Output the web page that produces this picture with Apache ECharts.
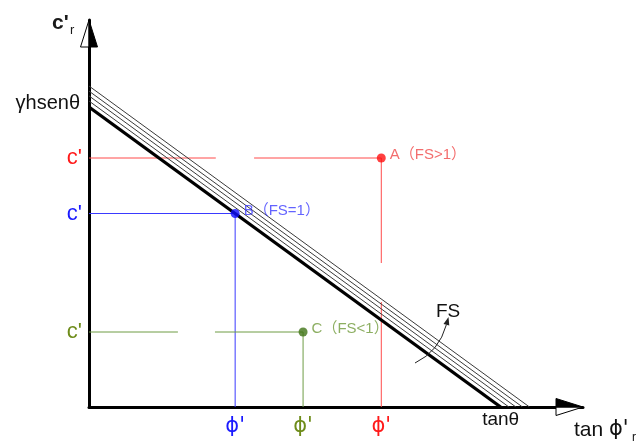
<!DOCTYPE html>
<html>
<head>
<meta charset="utf-8">
<script src="https://cdn.jsdelivr.net/npm/echarts@6/dist/echarts.min.js"></script>
<style>
  html, body { margin: 0; padding: 0; background: #fff; }
  #chart { width: 644px; height: 444px; }
</style>
</head>
<body>
<div id="chart"></div>
<script>
// Slope stability chart: cohesion c'r against tan φ'r.
// The thick line is the FS = 1 limit (intercepts tanθ and γh senθ = 1),
// thinner parallel lines show increasing FS.
const bandIntercepts = [1.0, 1.02, 1.037, 1.053, 1.07];

// Example states A, B, C (x = tan φ', y = c')
const pointNames  = ['A', 'B', 'C'];
const pointLabels = ['A（FS>1）', 'B（FS=1）', 'C（FS<1）'];
const pointX = [0.71, 0.355, 0.52];
const pointY = [0.83, 0.645, 0.25];

// Breaks in the guide lines (axis units)
const guideGapsH = { A: [0.308, 0.401], C: [0.216, 0.306] };
const guideGapsV = { A: [0.35, 0.48] };

// Axis tick labels
const limitLabelY = 'γhsenθ';
const limitLabelX = 'tanθ';
const pointTickLabelY = "c'";
const pointTickLabelX = "ϕ'";

const X_MAX = 1.2;
const Y_MAX = 1.29;

const colors = {
  A: { line: '#ff4a4a', dot: '#ff1010', text: '#f04848', tick: '#ff1a1a' },
  B: { line: '#3a3aff', dot: '#1010ff', text: '#3c3cff', tick: '#1a1aff' },
  C: { line: '#6f9c45', dot: '#3f7315', text: '#6f9a3a', tick: '#6e8c1a' }
};
const FONT = "'Liberation Sans', 'DejaVu Sans', 'Noto Sans CJK SC', sans-serif";
const PHI_FONT = "'DejaVu Sans', 'Liberation Sans', sans-serif";

// Guide lines from each point down to the axes
const guideLines = [];
pointNames.forEach((n, i) => {
  const x = pointX[i], y = pointY[i];
  const c = colors[n].line;
  const gh = guideGapsH[n], gv = guideGapsV[n];
  const horiz = gh ? [[[0, y], [gh[0], y]], [[gh[1], y], [x, y]]] : [[[0, y], [x, y]]];
  const vert = gv ? [[[x, y], [x, gv[1]]], [[x, gv[0]], [x, 0]]] : [[[x, y], [x, 0]]];
  horiz.concat(vert).forEach(seg => guideLines.push({ coords: seg, lineStyle: { color: c } }));
});

// FS band lines
const bandLines = bandIntercepts.map((b, i) => ({
  coords: [[0, b], [b, 0]],
  lineStyle: i === 0 ? { color: '#000', width: 3.2 } : { color: '#3a3a3a', width: 1 }
}));

// Tick values/labels built from the points and the limit line
const yTicks = pointNames.map((n, i) => ({ v: pointY[i], s: n, t: pointTickLabelY }))
  .concat([{ v: bandIntercepts[0], s: 'K', t: limitLabelY }]);
const xTicks = pointNames.map((n, i) => ({ v: pointX[i], s: n, t: pointTickLabelX }))
  .concat([{ v: bandIntercepts[0], s: 'K', t: limitLabelX }]);

function tickRich(size, family) {
  return {
    A: { color: colors.A.tick, fontSize: size, fontFamily: family },
    B: { color: colors.B.tick, fontSize: size, fontFamily: family },
    C: { color: colors.C.tick, fontSize: size, fontFamily: family }
  };
}

const chart = echarts.init(document.getElementById('chart'), null, { renderer: 'canvas' });

chart.setOption({
  animation: false,
  backgroundColor: '#fff',
  grid: { left: 89, top: 20, width: 494, height: 387 },
  xAxis: {
    type: 'value', min: 0, max: X_MAX,
    splitLine: { show: false },
    axisTick: { show: false },
    axisLine: { show: true, onZero: false, lineStyle: { color: '#000', width: 3 } },
    axisLabel: {
      customValues: xTicks.map(t => t.v),
      margin: 9,
      formatter: (v) => {
        const t = xTicks.find(k => k.v === v);
        if (!t) return '';
        return '{' + t.s + '|' + t.t + '}';
      },
      rich: Object.assign(tickRich(21, PHI_FONT), {
        K: { color: '#111', fontSize: 19, fontFamily: FONT, padding: [-6, 0, 0, 0] }
      })
    }
  },
  yAxis: {
    type: 'value', min: 0, max: Y_MAX,
    splitLine: { show: false },
    axisTick: { show: false },
    axisLine: { show: true, onZero: false, lineStyle: { color: '#000', width: 3 } },
    axisLabel: {
      customValues: yTicks.map(t => t.v),
      margin: 7,
      formatter: (v) => {
        const t = yTicks.find(k => k.v === v);
        if (!t) return '';
        return '{' + t.s + '|' + t.t + '}';
      },
      rich: Object.assign(tickRich(22, FONT), {
        K: { color: '#111', fontSize: 20, fontFamily: FONT, padding: [0, 2, 8, 0] }
      })
    }
  },
  series: [
    {
      name: 'guides', type: 'lines', coordinateSystem: 'cartesian2d', polyline: true,
      silent: true, z: 2, lineStyle: { width: 1, opacity: 1 },
      data: guideLines
    },
    {
      name: 'FS band', type: 'lines', coordinateSystem: 'cartesian2d',
      silent: true, z: 3, lineStyle: { opacity: 1 },
      data: bandLines
    },
    {
      name: 'points', type: 'scatter', z: 5, symbolSize: 9,
      data: pointNames.map((n, i) => ({
        value: [pointX[i], pointY[i]],
        itemStyle: { color: colors[n].dot },
        label: {
          show: true, position: 'right', distance: 4, offset: [0, -3],
          formatter: pointLabels[i], color: colors[n].text,
          fontSize: 15, fontFamily: FONT
        }
      }))
    },
    {
      // axis arrowheads: half filled, half outlined
      name: 'arrows', type: 'custom', silent: true, z: 6, clip: false,
      data: [[0, 0]],
      renderItem: (params, api) => {
        const xe = api.coord([X_MAX, 0]);
        const ye = api.coord([0, Y_MAX]);
        const L = 27, H = 8.5;
        return {
          type: 'group',
          children: [
            { type: 'polygon', shape: { points: [[xe[0] - L, xe[1]], [xe[0] - L, xe[1] + H], [xe[0], xe[1]]] },
              style: { fill: '#fff', stroke: '#000', lineWidth: 1 } },
            { type: 'polygon', shape: { points: [[xe[0] - L, xe[1] - H], [xe[0] - L, xe[1]], [xe[0], xe[1]]] },
              style: { fill: '#000', stroke: '#000', lineWidth: 1 } },
            { type: 'polygon', shape: { points: [[ye[0] - H, ye[1] + L], [ye[0], ye[1] + L], [ye[0], ye[1]]] },
              style: { fill: '#fff', stroke: '#000', lineWidth: 1 } },
            { type: 'polygon', shape: { points: [[ye[0], ye[1] + L], [ye[0] + H, ye[1] + L], [ye[0], ye[1]]] },
              style: { fill: '#000', stroke: '#000', lineWidth: 1 } }
          ]
        };
      }
    }
  ],
  graphic: [
    // y axis title c'r
    { type: 'text', left: 52, top: 13, style: { text: "c'", fill: '#1a1a1a', font: 'bold 21px ' + FONT } },
    { type: 'text', left: 70, top: 24, style: { text: 'r', fill: '#1a1a1a', font: '13px ' + FONT } },
    // x axis title tan ϕ'r
    { type: 'text', left: 574, top: 420, style: { text: 'tan', fill: '#111', font: '21px ' + FONT } },
    { type: 'text', left: 609, top: 419, style: { text: "ϕ'", fill: '#111', font: '21px ' + PHI_FONT } },
    { type: 'text', left: 632, top: 432, style: { text: 'r', fill: '#111', font: '12px ' + FONT } },
    // FS annotation with curved arrow
    { type: 'text', left: 436, top: 302, style: { text: 'FS', fill: '#111', font: '19px ' + FONT } },
    { type: 'bezierCurve', shape: { x1: 415, y1: 363, cpx1: 439, cpy1: 351.5, x2: 446.4, y2: 324.7 },
      style: { stroke: '#222', lineWidth: 1, fill: null }, z: 10 },
    { type: 'polygon', shape: { points: [[448.5, 317], [449.3, 325.5], [443.5, 323.9]] },
      style: { fill: '#222' }, z: 10 }
  ]
});
</script>
</body>
</html>
